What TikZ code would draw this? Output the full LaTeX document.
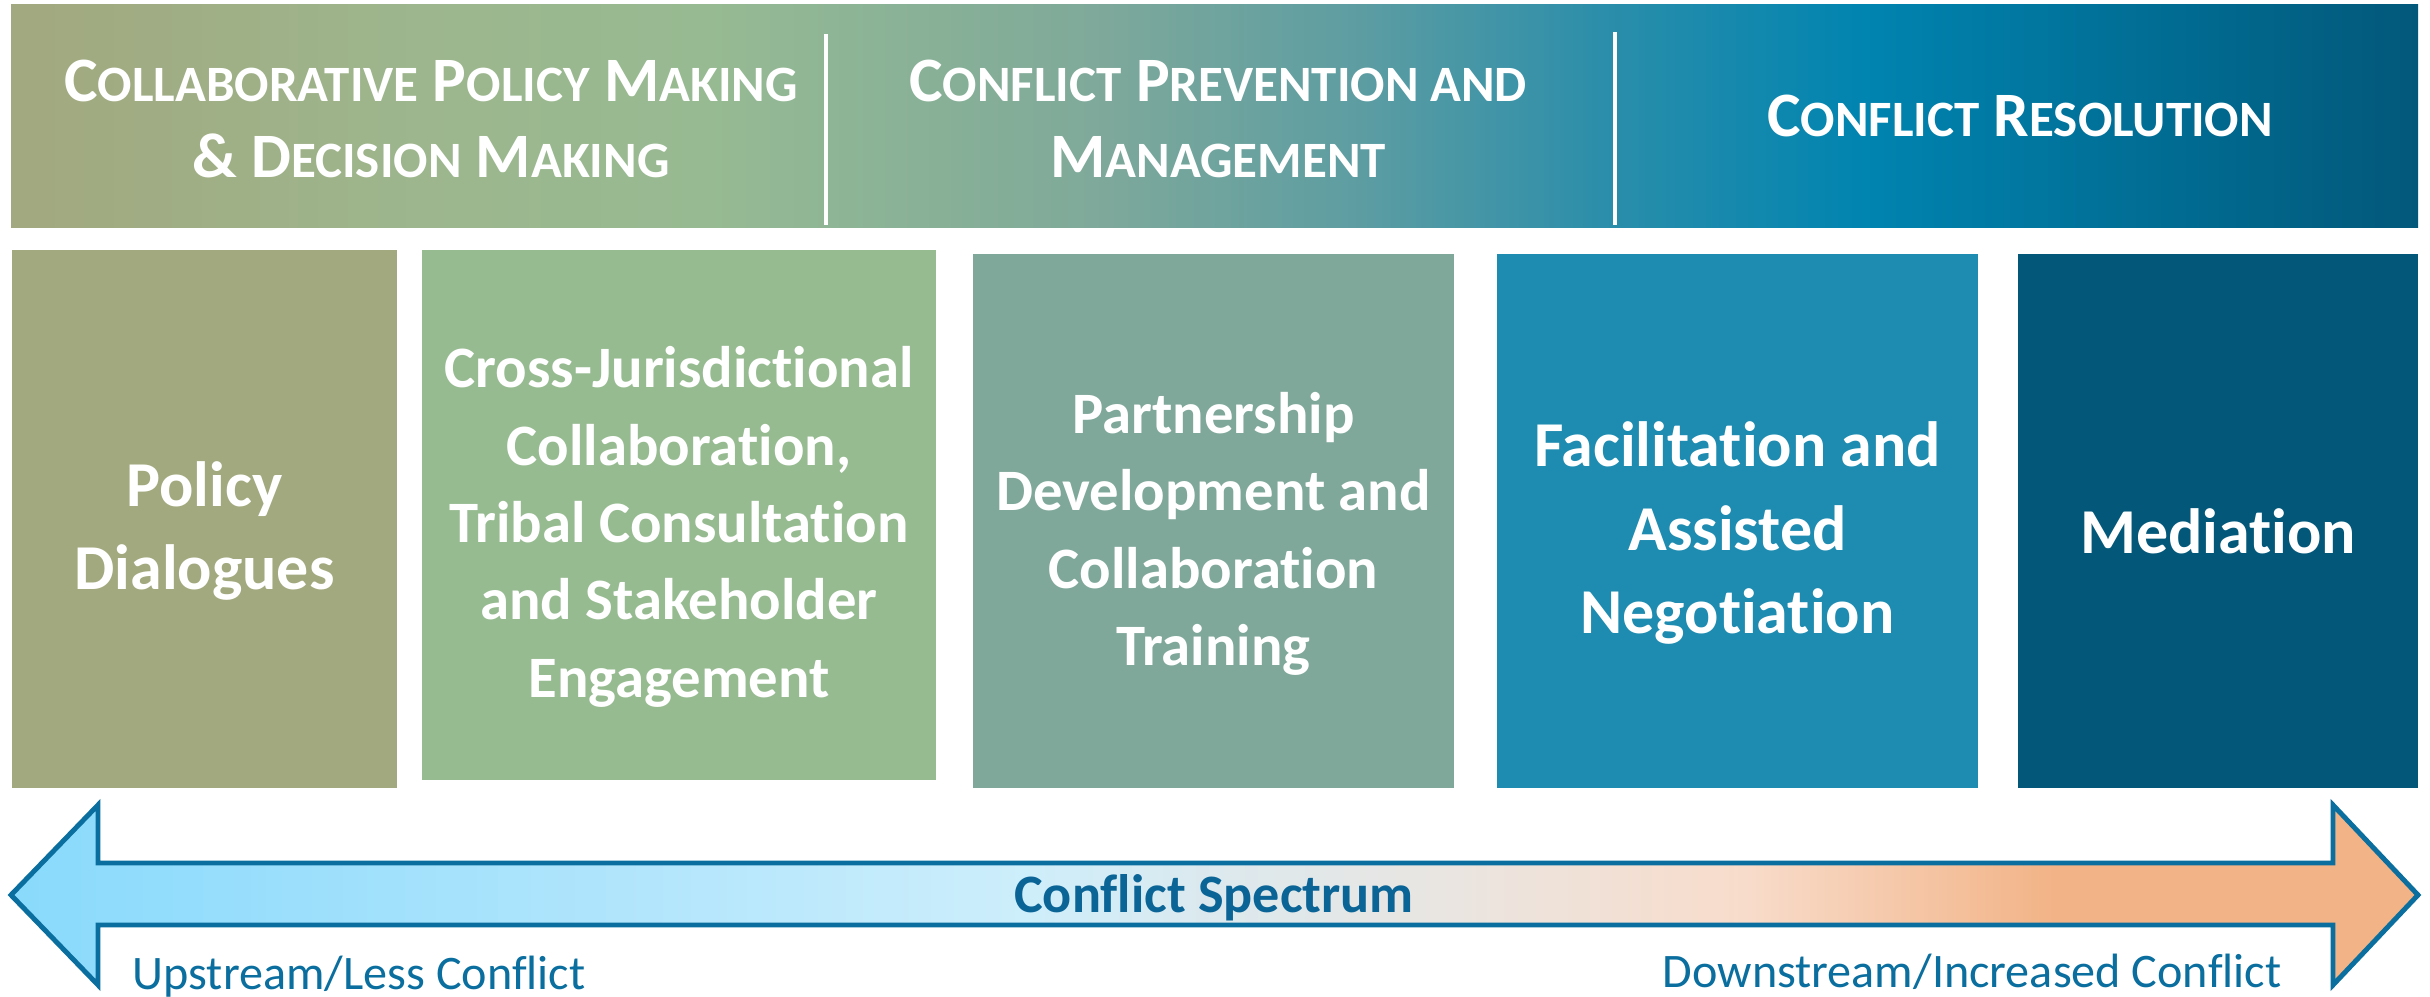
\documentclass[tikz,border=0pt]{standalone}
\usepackage{fontspec}
\setmainfont{Carlito}[Ligatures=NoCommon]
\usetikzlibrary{positioning}

\definecolor{bnA}{HTML}{A2A87F}
\definecolor{bnB}{HTML}{9DB68D}
\definecolor{bnC}{HTML}{97BA92}
\definecolor{bnD}{HTML}{8EB595}
\definecolor{bnE}{HTML}{7FA99A}
\definecolor{bnF}{HTML}{5D9DA2}
\definecolor{bnG}{HTML}{2C8EAA}
\definecolor{bnH}{HTML}{0084B0}
\definecolor{bnI}{HTML}{02587A}
\definecolor{arA}{HTML}{89DAFC}
\definecolor{arB}{HTML}{B0E5FC}
\definecolor{arC}{HTML}{CDEEFB}
\definecolor{arD}{HTML}{DCE9EE}
\definecolor{arE}{HTML}{EAE5E0}
\definecolor{arF}{HTML}{F8DCCB}
\definecolor{arG}{HTML}{F2B386}
\definecolor{spline}{HTML}{0A6E9E}
\definecolor{sptext}{HTML}{0A6496}
\definecolor{boxA}{HTML}{A3A97E}
\definecolor{boxB}{HTML}{97BB91}
\definecolor{boxC}{HTML}{7FA89A}
\definecolor{boxD}{HTML}{1E8BB0}
\definecolor{boxE}{HTML}{03587A}

\pgfdeclarehorizontalshading{banner}{100bp}{color(0bp)=(bnA); color(25bp)=(bnA);
  color(33.5bp)=(bnB); color(39.5bp)=(bnC); color(42bp)=(bnD); color(47.5bp)=(bnE);
  color(53bp)=(bnF); color(58bp)=(bnG); color(63.5bp)=(bnH); color(75bp)=(bnI); color(100bp)=(bnI)}
\pgfdeclarehorizontalshading{spectrum}{100bp}{color(0bp)=(arA); color(25bp)=(arA);
  color(37.5bp)=(arB); color(46bp)=(arC); color(50bp)=(arD); color(55bp)=(arE);
  color(61bp)=(arF); color(67.5bp)=(arG); color(75bp)=(arG); color(100bp)=(arG)}

\newcommand{\hsc}[2]{#1{\fontsize{14.5}{20}\selectfont #2}}

\begin{document}
\begin{tikzpicture} [
    box/.style = {minimum height=5.34cm, inner sep=0pt},
    boxtext/.style = {align=center, text=white, inner sep=0pt,
                      font=\fontsize{18.2}{23.8}\selectfont\bfseries},
    smalltext/.style = {boxtext, font=\fontsize{16.7}{22}\selectfont\bfseries},
    head/.style = {align=center, text=white, inner sep=0pt,
                   font=\fontsize{18}{21.6}\selectfont\bfseries},
    side/.style = {text=spline, inner sep=0pt, font=\fontsize{13.7}{16}\selectfont}
  ]
    \useasboundingbox (0,0) rectangle (24.3,-9.97);

    % banner
    \path [shading=banner] (0.11,-0.05) rectangle (24.18,-2.28);
    \draw [white, line width=1pt] (8.26,-0.34) -- (8.26,-2.25);
    \draw [white, line width=1pt] (16.15,-0.32) -- (16.15,-2.25);

    \node (collab) [head] at (4.31,-1.19)
        {\hsc{C}{OLLABORATIVE} \hsc{P}{OLICY} \hsc{M}{AKING}\\ \hsc{\&}{} \hsc{D}{ECISION} \hsc{M}{AKING}};
    \node (prevent) [head] at (12.18,-1.19)
        {\hsc{C}{ONFLICT} \hsc{P}{REVENTION AND}\\ \hsc{M}{ANAGEMENT}};
    \node (resolve) [head] at (20.2,-1.16) {\hsc{C}{ONFLICT} \hsc{R}{ESOLUTION}};

    % boxes
    \node (policy) [box, fill=boxA, minimum width=3.85cm, minimum height=5.38cm] at (2.045,-5.19) {};
    \node (cross) [box, fill=boxB, minimum width=5.14cm, minimum height=5.30cm] at (6.79,-5.15) {};
    \node (partner) [box, fill=boxC, minimum width=4.81cm] at (12.135,-5.21) {};
    \node (facil) [box, fill=boxD, minimum width=4.81cm] at (17.375,-5.21) {};
    \node (mediate) [box, fill=boxE, minimum width=4.00cm] at (22.18,-5.21) {};

    \node (policyT) [boxtext] at ([yshift=-0.12cm]policy.center) {Policy\\Dialogues};
    \node (crossT) [smalltext] at ([yshift=-0.12cm]cross.center)
        {Cross-Jurisdictional\\Collaboration,\\Tribal Consultation\\and Stakeholder\\Engagement};
    \node (partnerT) [smalltext] at ([yshift=-0.13cm]partner.center)
        {Partnership\\Development and\\Collaboration\\Training};
    \node (facilT) [boxtext] at ([yshift=-0.12cm]facil.center) {Facilitation and\\Assisted\\Negotiation};
    \node (mediateT) [boxtext] at ([yshift=-0.1cm]mediate.center) {Mediation};

    % spectrum arrow
    \draw [spline, line width=1.4pt, line join=miter, shading=spectrum]
        (0.11,-8.95) -- (0.98,-8.05) -- (0.98,-8.63) -- (23.33,-8.63) -- (23.33,-8.05)
        -- (24.18,-8.95) -- (23.33,-9.85) -- (23.33,-9.25) -- (0.98,-9.25) -- (0.98,-9.85) -- cycle;
    \node (spec) [text=sptext, font=\fontsize{15.4}{18}\selectfont\bfseries] at (12.14,-8.98)
        {Conflict Spectrum};
    \node (up) [side, anchor=base west] at (1.32,-9.9) {Upstream/Less Conflict};
    \node (down) [side, anchor=base east] at (22.82,-9.88) {Downstream/Increased Conflict};
\end{tikzpicture}
\end{document}
